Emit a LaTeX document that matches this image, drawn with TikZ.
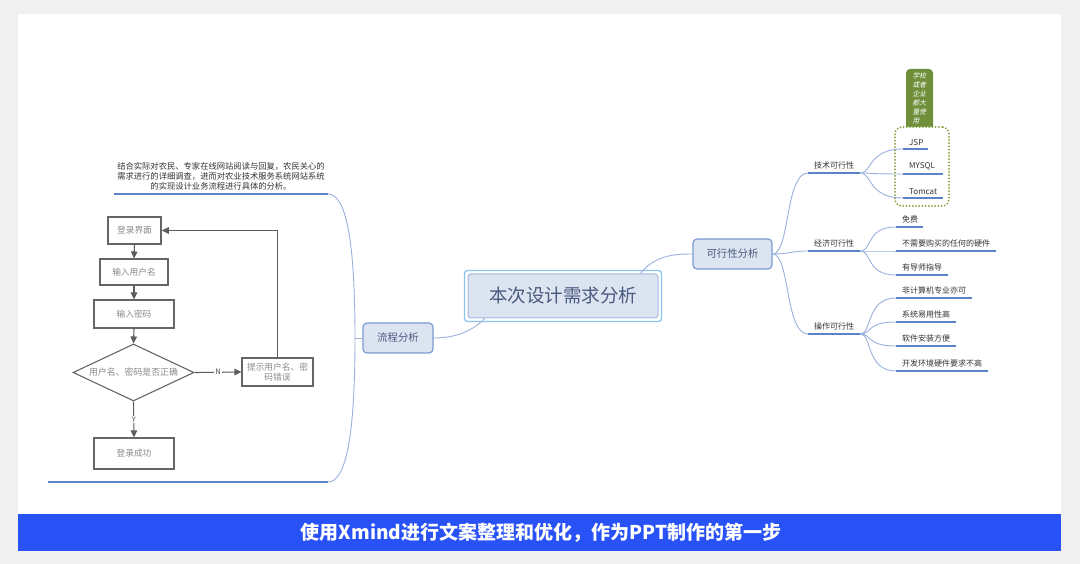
\documentclass[tikz,border=0pt]{standalone}
\usepackage{fontspec}
\setmainfont{Noto Sans CJK SC}
\newfontfamily\slantcjk[FakeSlant=0.2]{Noto Sans CJK SC}
\usetikzlibrary{arrows.meta,shapes.geometric,calc}
\definecolor{bgGray}{HTML}{F0F0F0}
\definecolor{barBlue}{RGB}{40,82,246}
\definecolor{nodeFill}{HTML}{DCE4F2}
\definecolor{nodeLine}{HTML}{7C9BD2}
\definecolor{outerLine}{HTML}{8EC3F0}
\definecolor{mainText}{HTML}{4A5A7E}
\definecolor{topicText}{HTML}{333333}
\definecolor{ulBlue}{HTML}{5B83C9}
\definecolor{connBlue}{HTML}{9AB2DC}
\definecolor{olive}{HTML}{6F8F3A}
\definecolor{oliveDot}{HTML}{7F9E3C}
\definecolor{flowLine}{HTML}{666666}
\definecolor{flowText}{HTML}{8A8A8A}
\tikzset{
  xnode/.style={draw=nodeLine, fill=nodeFill, line width=1.2pt, rounded corners=4pt,
    text=mainText, inner sep=0pt},
  topic/.style={anchor=south west, inner xsep=6pt, inner ysep=3.5pt, align=left,
    text=topicText, font=\fontsize{8}{10}\selectfont},
  ul/.style={draw=ulBlue, line width=2pt},
  conn/.style={draw=connBlue, line width=0.9pt},
  fbox/.style={draw=flowLine, line width=1.1pt, text=flowText, inner sep=0pt,
    font=\fontsize{8.7}{11}\selectfont, align=center},
  farrow/.style={draw=flowLine!90!black, line width=1.1pt, -{Triangle[length=7pt,width=6.5pt]}},
  flabel/.style={fill=white, inner sep=1pt, text=flowLine!80!black, font=\fontsize{7.5}{8}\selectfont}
}
\begin{document}
\begin{tikzpicture}[x=1pt,y=-1pt]
\useasboundingbox (0,0) rectangle (1080,564);
\fill[bgGray] (0,0) rectangle (1080,564);
\fill[white] (18,14) rectangle (1061,514);
\fill[barBlue] (18,514) rectangle (1061,551);
\node[text=white, font=\fontsize{19}{20}\selectfont\bfseries] (bar) at (541,533)
  {使用Xmind进行文案整理和优化，作为PPT制作的第一步};

% central topic
\node[xnode, draw=nodeLine!70, line width=1pt, rounded corners=3pt, minimum width=190pt,
  minimum height=44pt, font=\fontsize{18.5}{20}\selectfont] (main) at (563,296) {本次设计需求分析};
\draw[outerLine, line width=1.3pt, rounded corners=3pt]
  ($(main.north west)+(-3,-3)$) rectangle ($(main.south east)+(3,3)$);

\node[xnode, minimum width=79pt, minimum height=30pt, font=\fontsize{10.4}{12}\selectfont]
  (fa) at (732.5,254) {可行性分析};
\node[xnode, minimum width=70pt, minimum height=30pt, font=\fontsize{10.4}{12}\selectfont]
  (lf) at (398,338) {流程分析};

\draw[conn] ($(main.north east)+(-18,0)$) .. controls (655,255) and (675,254) .. (fa.west);
\draw[conn] ($(main.south west)+(17,0)$) .. controls (470,334) and (450,338) .. (lf.east);

% ---------- left branch ----------
\coordinate (lj) at (355,338);
\node[anchor=south, align=center, text=topicText, inner sep=0pt,
  font=\fontsize{8.3}{10}\selectfont] (desc) at (221,190)
  {结合实际对农民、专家在线网站阅读与回复，农民关心的\\
   需求进行的详细调查，进而对农业技术服务系统网站系统\\
   的实现设计业务流程进行具体的分析。};
\coordinate (descL) at (114,194);
\coordinate (descR) at (328,194);
\coordinate (imgL) at (48,482);
\coordinate (imgR) at (328,482);
\draw[ul] (descL) -- (descR);
\draw[ul] (imgL) -- (imgR);
\draw[conn] (lf.west) -- (lj);
\draw[conn] (lj) .. controls (355,240) and (346,194) .. (descR);
\draw[conn] (lj) .. controls (355,436) and (346,482) .. (imgR);

% flowchart
\node[fbox, line width=1.5pt, minimum width=53pt, minimum height=27pt] (login) at (134.5,230.5) {登录界面};
\node[fbox, minimum width=68pt, minimum height=26pt] (user) at (134,272) {输入用户名};
\node[fbox, minimum width=80pt, minimum height=28pt] (pwd) at (134,314) {输入密码};
\node[draw=flowLine, line width=1.1pt, diamond, aspect=2.1, minimum width=121pt,
  minimum height=57pt, inner sep=0pt] (dia) at (133.5,372.5) {};
\node[text=flowText, font=\fontsize{8.9}{11}\selectfont, inner sep=0pt] (diat) at (dia.center) {用户名、密码是否正确};
\node[fbox, minimum width=71pt, minimum height=28pt, font=\fontsize{8.7}{10.5}\selectfont]
  (err) at (277.5,372) {提示用户名、密\\码错误};
\node[fbox, minimum width=80pt, minimum height=31pt] (ok) at (134,453.5) {登录成功};

\draw[farrow] (login.south) -- (user.north);
\draw[farrow] (user.south) -- (pwd.north);
\draw[farrow] (pwd.south) -- (dia.north);
\draw[farrow] (dia.east) -- node[flabel] {N} (err.west);
\draw[farrow] (dia.south) -- node[flabel] {Y} (ok.north);
\draw[farrow] (err.north) |- (login.east);

% ---------- right branch ----------
\node[fill=olive, rounded corners=4pt, minimum width=27pt, minimum height=61pt, inner sep=0pt]
  (tag) at (919.5,99.5) {};
\node[text=white, text width=14pt, align=left, inner sep=0pt,
  font=\slantcjk\fontsize{6.8}{9}\selectfont] (tagt) at (919.5,98.5)
  {学校\\或者\\企业\\都大\\量使\\用};
\node[draw=oliveDot, fill=white, line width=2pt, dash pattern=on 0pt off 3.2pt, line cap=round,
  rounded corners=7pt, minimum width=54pt, minimum height=79pt] (grp) at (922,166.5) {};

\node[topic, text width=40pt] (tech) at (808,173) {技术可行性};
\node[topic, text width=40pt] (econ) at (808,251) {经济可行性};
\node[topic, text width=40pt] (oper) at (808,334) {操作可行性};

\node[topic, text width=13pt] (jsp) at (903,149) {JSP};
\node[topic, text width=28pt] (mysql) at (903,174) {MYSQL};
\node[topic, text width=28pt] (tomcat) at (903,198) {Tomcat};

\node[topic, text width=15pt] (free) at (896,227) {免费};
\node[topic, text width=88pt] (hw) at (896,251) {不需要购买的任何的硬件};
\node[topic, text width=40pt] (tutor) at (896,275) {有导师指导};

\node[topic, text width=64pt] (o1) at (896,298) {非计算机专业亦可};
\node[topic, text width=48pt] (o2) at (896,322) {系统易用性高};
\node[topic, text width=48pt] (o3) at (896,346) {软件安装方便};
\node[topic, text width=80pt] (o4) at (896,371) {开发环境硬件要求不高};

\foreach \n in {tech,econ,oper,jsp,mysql,tomcat,free,hw,tutor,o1,o2,o3,o4}{
  \draw[ul] (\n.south west) -- (\n.south east);
}

\draw[conn] (fa.east) .. controls (790,254) and (785,173) .. (tech.south west);
\draw[conn] (fa.east) .. controls (790,254) and (790,251) .. (econ.south west);
\draw[conn] (fa.east) .. controls (790,254) and (785,334) .. (oper.south west);

\foreach \c in {jsp,mysql,tomcat}{
  \draw[conn] (tech.south east) .. controls (872,173) and (868,0 |- \c.south west) .. (\c.south west);
}
\foreach \c in {free,hw,tutor}{
  \draw[conn] (econ.south east) .. controls (872,251) and (866,0 |- \c.south west) .. (\c.south west);
}
\foreach \c in {o1,o2,o3,o4}{
  \draw[conn] (oper.south east) .. controls (872,334) and (866,0 |- \c.south west) .. (\c.south west);
}
\end{tikzpicture}
\end{document}
